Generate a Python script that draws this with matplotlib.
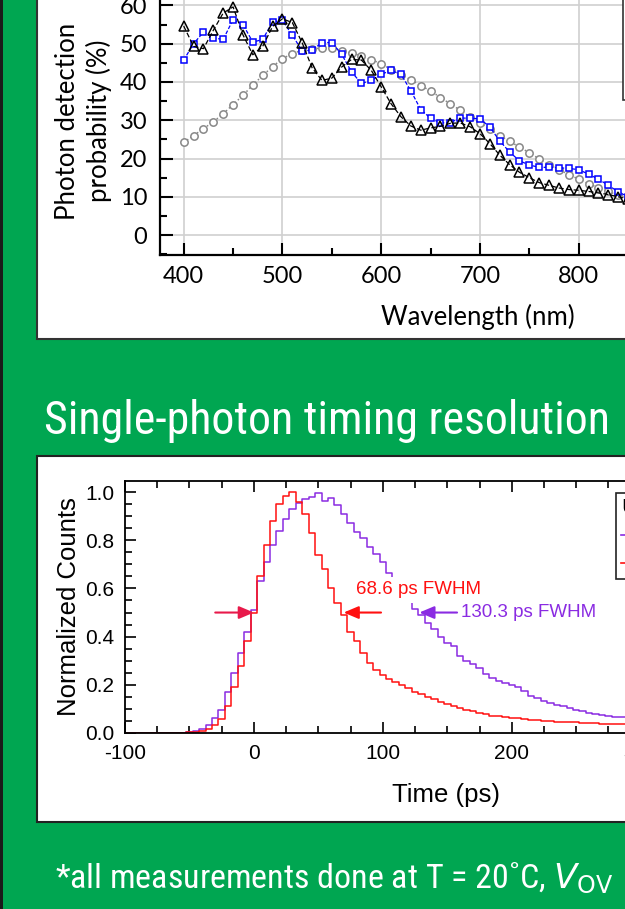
import numpy as np
import matplotlib
matplotlib.use("Agg")
from matplotlib import pyplot as plt
from matplotlib.patches import Rectangle
from matplotlib.ticker import MultipleLocator, FormatStrFormatter
from matplotlib.lines import Line2D
from matplotlib import font_manager
from matplotlib.font_manager import FontProperties

W, H = 625, 909
GREEN = "#00a651"

# --- photon detection probability vs wavelength (three devices) ---
wavelength = list(range(400, 860, 10))
pdp_tri = [54.6, 49.3, 48.7, 53.5, 58.0, 59.6, 52.3, 47.1, 49.3, 54.5,
           56.5, 55.5, 50.2, 43.7, 40.4, 41.0, 43.9, 45.9, 45.7, 43.0,
           38.7, 34.3, 30.9, 28.5, 27.4, 28.0, 28.4, 29.2, 29.3, 28.3,
           26.5, 23.9, 20.9, 18.4, 16.4, 15.0, 13.7, 13.0, 12.3, 11.9,
           11.7, 11.4, 11.0, 10.6, 10.0, 9.4]
pdp_sq = [45.7, 50.0, 53.0, 51.5, 51.1, 56.3, 55.0, 50.4, 51.1, 55.7,
          56.1, 52.2, 48.1, 48.3, 50.3, 50.3, 47.2, 42.6, 39.6, 40.4,
          42.0, 43.0, 42.0, 37.7, 32.8, 30.5, 29.3, 29.4, 30.6, 30.5,
          30.4, 28.2, 24.6, 21.7, 19.4, 18.3, 17.7, 17.7, 17.6, 17.4,
          17.1, 15.9, 14.6, 13.0, 11.3, 10.0]
pdp_circ = [24.2, 26.0, 27.8, 29.6, 31.7, 34.1, 36.5, 39.2, 41.7, 44.0,
            46.1, 47.4, 48.3, 48.7, 48.8, 48.9, 48.2, 47.6, 46.8, 45.8,
            44.8, 43.2, 41.9, 40.6, 39.0, 37.7, 35.9, 34.3, 32.6, 30.9,
            29.3, 27.7, 26.0, 24.5, 23.0, 21.5, 19.9, 18.4, 17.1, 15.8,
            14.6, 13.4, 12.4, 11.4, 10.4, 9.6]

# --- timing histograms (normalized counts, 5 ps bins) ---
time_ps = list(range(-100, 295, 5))
counts_red = [0.002] * 10 + [
    0.003, 0.005, 0.009, 0.017, 0.032, 0.06, 0.11, 0.19, 0.28, 0.38,
    0.50, 0.65, 0.78, 0.88, 0.95, 0.985, 1.0, 0.96, 0.91, 0.83,
    0.74, 0.68, 0.60, 0.54, 0.49, 0.42, 0.38, 0.33, 0.29, 0.26,
    0.24, 0.225, 0.21, 0.198, 0.185, 0.172, 0.16, 0.15, 0.14, 0.127,
    0.12, 0.11, 0.103, 0.095, 0.09, 0.085, 0.078, 0.072, 0.069, 0.066,
    0.064, 0.061, 0.058, 0.055, 0.053, 0.05, 0.048, 0.046, 0.045, 0.045,
    0.044, 0.042, 0.041, 0.04, 0.039, 0.038, 0.038, 0.037, 0.037]
counts_purple = [0.002] * 10 + [
    0.003, 0.007, 0.016, 0.035, 0.062, 0.095, 0.17, 0.25, 0.33, 0.42,
    0.51, 0.63, 0.71, 0.78, 0.84, 0.89, 0.93, 0.955, 0.97, 0.98,
    0.995, 0.965, 0.975, 0.945, 0.91, 0.87, 0.835, 0.81, 0.77, 0.745,
    0.71, 0.665, 0.62, 0.58, 0.545, 0.515, 0.49, 0.455, 0.43, 0.40,
    0.375, 0.36, 0.32, 0.30, 0.285, 0.27, 0.245, 0.23, 0.215, 0.207,
    0.2, 0.19, 0.175, 0.155, 0.145, 0.133, 0.125, 0.118, 0.11, 0.103,
    0.097, 0.09, 0.085, 0.078, 0.073, 0.069, 0.067, 0.067, 0.066]

fwhm_red = (0.0, 68.6)
fwhm_purple = 130.3

plt.rcParams["axes.unicode_minus"] = False


def find_narrow():
    "look for a condensed / narrow sans face among the installed fonts"
    prefs = ["liberation", "roboto", "noto", "opensans", "open sans", "dejavu"]
    found = []
    for f in font_manager.fontManager.ttflist:
        fn = f.fname.lower().replace(" ", "")
        if not ("narrow" in fn or "condensed" in fn):
            continue
        if f.style != "normal" or "bold" in fn or "black" in fn or "extracondensed" in fn \
                or "semicondensed" in fn or "ultra" in fn or "medium" in fn or "thin" in fn:
            continue
        if f.weight not in (400, "normal", "regular", 300, "light"):
            continue
        rank = next((i for i, p in enumerate(prefs) if p in fn), len(prefs))
        found.append((rank, f))
    if not found:
        return None
    found.sort(key=lambda t: t[0])
    return found[0][1]


narrow = find_narrow()
if narrow is not None:
    title_fp = FontProperties(fname=narrow.fname, size=33)
    foot_fp = FontProperties(fname=narrow.fname, size=24.5)
    math_family = narrow.name
else:
    title_fp = FontProperties(family="Liberation Sans", size=28.5)
    foot_fp = FontProperties(family="Liberation Sans", size=20)
    math_family = "Liberation Sans"
plt.rcParams["mathtext.fontset"] = "custom"
plt.rcParams["mathtext.rm"] = math_family
plt.rcParams["mathtext.it"] = math_family + ":italic"


def px_rect(x0, y0, x1, y1, **kw):
    "rectangle given in image pixels (top-left origin)"
    return Rectangle((x0 / W, 1 - y1 / H), (x1 - x0) / W, (y1 - y0) / H,
                     transform=fig.transFigure, **kw)


fig = plt.figure(figsize=(W / 100, H / 100), dpi=100, facecolor=GREEN)
fig.add_artist(px_rect(0, -5, 3, H + 5, facecolor="#1a1a1a", edgecolor="none", zorder=-2))
fig.add_artist(px_rect(37, -20, W + 20, 339, facecolor="white", edgecolor="#333333", lw=1.5, zorder=-1))
fig.add_artist(px_rect(37, 456, W + 20, 822, facecolor="white", edgecolor="#222222", lw=1.5, zorder=-1))

# ---------------- top chart ----------------
TOPFONT = "Lato"
ax1 = fig.add_axes([160 / W, 1 - 255 / H, 636 / W, 268 / H])
ax1.plot(wavelength, pdp_circ, ls=":", color="#888888", lw=1.1, marker="o",
         ms=5.3, mfc="white", mec="#888888", mew=1.1, zorder=3)
ax1.plot(wavelength, pdp_sq, ls=(0, (3, 1.5)), color="blue", lw=0.9, marker="s",
         ms=4.6, mfc="white", mec="blue", mew=1.1, zorder=4)
ax1.plot(wavelength, pdp_tri, ls=(0, (4, 2)), color="black", lw=0.9, marker="^",
         ms=7.8, mfc="none", mec="black", mew=1.1, zorder=5)
ax1.set_xlim(376, 1020)
ax1.set_ylim(-5.2, 64.8)
ax1.xaxis.set_major_locator(MultipleLocator(100))
ax1.xaxis.set_minor_locator(MultipleLocator(50))
ax1.yaxis.set_major_locator(MultipleLocator(10))
ax1.yaxis.set_minor_locator(MultipleLocator(5))
ax1.grid(True, which="major", color="#d0d0d0", lw=1.2)
ax1.set_axisbelow(True)
ax1.tick_params(which="both", direction="in", width=1.5, labelsize=17,
                top=False, right=False)
ax1.tick_params(which="major", length=9)
ax1.tick_params(which="minor", length=5)
ax1.tick_params(axis="x", pad=8)
ax1.tick_params(axis="y", pad=9)
for s in ax1.spines.values():
    s.set_linewidth(1.6)
for lab in ax1.get_xticklabels() + ax1.get_yticklabels():
    lab.set_fontfamily(TOPFONT)
ax1.set_xlabel("Wavelength (nm)", fontsize=18.5, family=TOPFONT, labelpad=12)
ax1.set_ylabel("Photon detection\nprobability (%)", fontsize=18.5, family=TOPFONT,
               labelpad=6, linespacing=1.25)
h1 = [Line2D([], [], color="black", marker="^", mfc="none"),
      Line2D([], [], color="blue", marker="s", mfc="white"),
      Line2D([], [], color="#888888", marker="o", mfc="white")]
leg1 = ax1.legend(h1, [" ", " ", " "], loc="lower left", mode="expand",
                  bbox_to_anchor=(0.728, 0.578, 0.6, 0.45), borderaxespad=0,
                  fontsize=15, labelspacing=1.2, fancybox=False, framealpha=1,
                  borderpad=1.4)
leg1.get_frame().set_edgecolor("#333333")
leg1.get_frame().set_linewidth(1.2)

# ---------------- bottom chart ----------------
PURPLE = "#8a2be2"
RED = "#ff1010"
BOTFONT = "Liberation Sans"
ax2 = fig.add_axes([125 / W, 1 - 733 / H, 642 / W, 252 / H])
ax2.plot(time_ps, counts_purple, drawstyle="steps-mid", color=PURPLE, lw=1.1)
ax2.plot(time_ps, counts_red, drawstyle="steps-mid", color=RED, lw=1.1)
ax2.set_xlim(-100, 398)
ax2.set_ylim(0, 1.046)
ax2.xaxis.set_major_locator(MultipleLocator(100))
ax2.xaxis.set_minor_locator(MultipleLocator(25))
ax2.yaxis.set_major_locator(MultipleLocator(0.2))
ax2.yaxis.set_minor_locator(MultipleLocator(0.05))
ax2.yaxis.set_major_formatter(FormatStrFormatter("%.1f"))
ax2.tick_params(which="both", direction="in", width=1.2, labelsize=15,
                top=True, right=True)
ax2.tick_params(which="major", length=8)
ax2.tick_params(which="minor", length=5)
ax2.tick_params(axis="x", pad=8)
ax2.tick_params(axis="y", pad=7.5)
for s in ax2.spines.values():
    s.set_linewidth(1.3)
for lab in ax2.get_xticklabels() + ax2.get_yticklabels():
    lab.set_fontfamily(BOTFONT)
ax2.set_xlabel("Time (ps)", fontsize=18.5, family=BOTFONT, labelpad=14)
ax2.set_ylabel("Normalized Counts", fontsize=18.5, family=BOTFONT, labelpad=3)

arrow = "-|>,head_length=0.9,head_width=0.38"
ax2.annotate("", xy=(fwhm_red[0], 0.5), xytext=(fwhm_red[0] - 30, 0.5),
             arrowprops=dict(arrowstyle=arrow, color="#e8194a", lw=1.5,
                             shrinkA=0, shrinkB=0, mutation_scale=10))
ax2.annotate("", xy=(fwhm_red[1] + 1, 0.5), xytext=(fwhm_red[1] + 30, 0.5),
             arrowprops=dict(arrowstyle=arrow, color=RED, lw=1.5,
                             shrinkA=0, shrinkB=0, mutation_scale=10))
ax2.text(79, 0.594, f"{fwhm_red[1]} ps FWHM", color=RED, fontsize=13.5,
         family=BOTFONT, va="center", ha="left",
         bbox=dict(facecolor="white", edgecolor="none", pad=3.5), zorder=4)
ax2.annotate(f"{fwhm_purple} ps FWHM", xy=(fwhm_purple - 2, 0.5),
             xytext=(fwhm_purple + 30.5, 0.5), color=PURPLE, fontsize=13.5,
             family=BOTFONT, va="center", ha="left",
             arrowprops=dict(arrowstyle=arrow, color=PURPLE, lw=1.5,
                             shrinkA=1, shrinkB=0, mutation_scale=10))

h2 = [Line2D([], [], color=PURPLE, lw=1.2), Line2D([], [], color=RED, lw=1.2)]
leg2 = ax2.legend(h2, [" ", " "], title="U", loc="upper left", mode="expand",
                  bbox_to_anchor=(0.7648, 0.3, 0.5, 0.6524), borderaxespad=0,
                  fontsize=14, title_fontsize=14, alignment="left",
                  labelspacing=0.5, borderpad=0.25, fancybox=False,
                  framealpha=1, handlelength=2)
leg2.get_frame().set_edgecolor("#222222")
leg2.get_frame().set_linewidth(1.2)

# ---------------- poster texts ----------------
fig.text(44 / W, 1 - 434 / H, "Single-photon timing resolution", color="white",
         fontproperties=title_fp, ha="left", va="baseline")
fig.text(55 / W, 1 - 888 / H, r"*all measurements done at T = 20˚C, $V_{\mathrm{OV}}$",
         color="white", fontproperties=foot_fp, ha="left", va="baseline")

fig.savefig("out.png", dpi=100, facecolor=GREEN)
